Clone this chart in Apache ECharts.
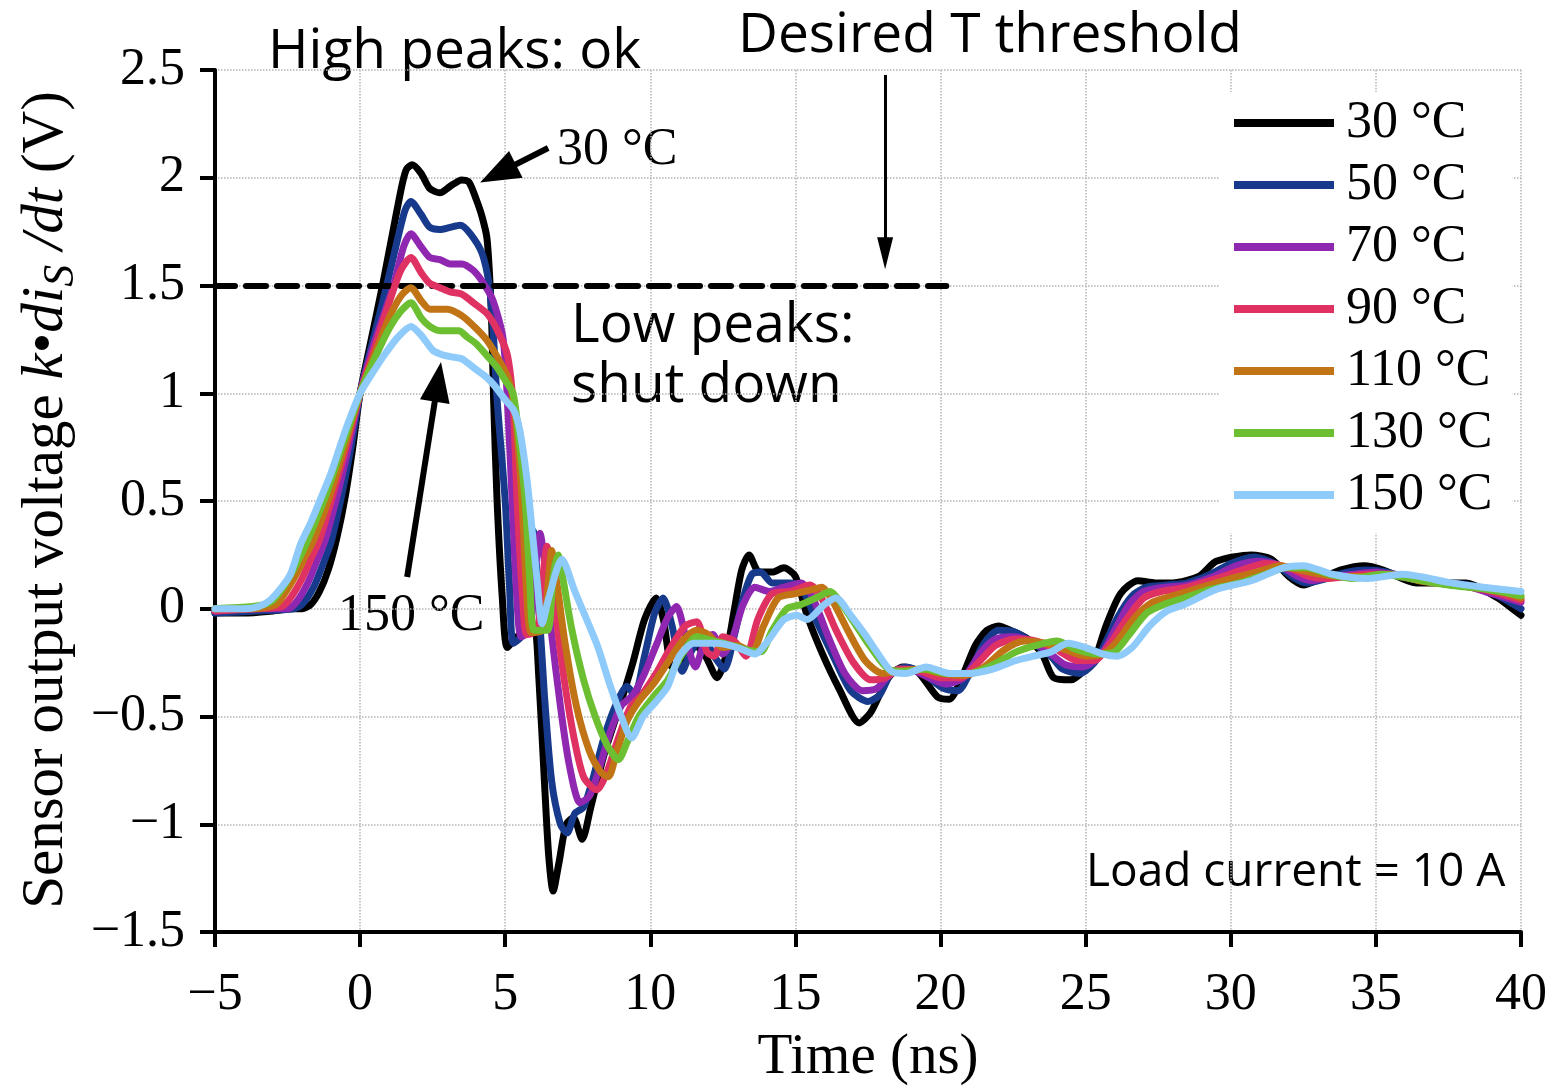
<!DOCTYPE html>
<html>
<head>
<meta charset="utf-8">
<script src="https://cdn.jsdelivr.net/npm/echarts@6/dist/echarts.min.js"></script>
</head>
<body style="margin:0;background:#fff">
<div id="main" style="width:1558px;height:1089px"></div>
<script>
// legend names, one per temperature
var tempNames = ['30 \u00b0C', '50 \u00b0C', '70 \u00b0C', '90 \u00b0C', '110 \u00b0C', '130 \u00b0C', '150 \u00b0C'];

// [time (ns), voltage (V)]
var s30 = [[-5,-0.02],[-4,-0.02],[-3,-0.01],[-2.4,0.0],[-2.0,0.0],[-1.7,0.02],[-1.4,0.08],[-1.1,0.18],[-0.8,0.33],[-0.5,0.53],[-0.25,0.75],[0,1.0],[0.4,1.26],[0.8,1.52],[1.2,1.8],[1.45,1.97],[1.6,2.04],[1.8,2.06],[2.1,2.02],[2.4,1.95],[2.75,1.93],[3.1,1.96],[3.5,1.99],[3.75,1.98],[4.0,1.9],[4.2,1.82],[4.37,1.72],[4.48,1.5],[4.54,1.3],[4.6,0.97],[4.72,0.5],[4.9,0.05],[5.07,-0.18],[5.4,-0.13],[5.75,-0.1],[6.0,-0.08],[6.15,-0.3],[6.35,-0.8],[6.5,-1.15],[6.65,-1.31],[6.85,-1.18],[7.1,-1.0],[7.35,-0.97],[7.65,-1.07],[7.95,-0.92],[8.4,-0.68],[8.9,-0.47],[9.4,-0.25],[9.8,-0.05],[10.2,0.05],[10.45,-0.05],[10.75,-0.27],[11.0,-0.25],[11.4,-0.15],[11.9,-0.22],[12.3,-0.32],[12.6,-0.22],[12.9,0.0],[13.15,0.18],[13.4,0.25],[13.75,0.17],[14.2,0.17],[14.6,0.19],[15.0,0.15],[15.4,-0.03],[15.9,-0.2],[16.5,-0.37],[17.2,-0.53],[17.6,-0.48],[18.2,-0.32],[18.7,-0.27],[19.2,-0.29],[19.9,-0.41],[20.3,-0.42],[20.7,-0.33],[21.2,-0.17],[21.6,-0.1],[22.0,-0.08],[22.4,-0.1],[23.0,-0.14],[23.5,-0.21],[23.9,-0.32],[24.5,-0.33],[25.0,-0.28],[25.3,-0.24],[25.7,-0.08],[26.2,0.07],[26.8,0.13],[27.4,0.12],[28.0,0.12],[28.9,0.15],[29.5,0.22],[30.7,0.25],[31.4,0.23],[32.0,0.15],[32.5,0.11],[33.1,0.14],[33.8,0.18],[34.6,0.2],[35.25,0.18],[36.4,0.12],[37.3,0.12],[38.1,0.12],[39.2,0.05],[39.7,0.0],[40,-0.03]];
var s50 = [[-5,-0.02],[-3.5,-0.01],[-2.3,0.0],[-2.0,0.02],[-1.6,0.1],[-1.3,0.2],[-1.0,0.31],[-0.6,0.55],[-0.3,0.76],[0,1.0],[0.45,1.25],[0.9,1.49],[1.3,1.72],[1.55,1.85],[1.75,1.89],[2.1,1.83],[2.4,1.77],[2.75,1.76],[3.1,1.77],[3.45,1.78],[3.8,1.74],[4.2,1.65],[4.45,1.5],[4.58,1.3],[4.72,0.97],[5.0,0.5],[5.15,0.1],[5.28,-0.16],[5.6,-0.12],[5.8,0.1],[5.97,0.36],[6.12,0.1],[6.35,-0.4],[6.6,-0.8],[6.9,-1.0],[7.13,-1.04],[7.4,-0.95],[7.7,-0.92],[8.0,-0.8],[8.4,-0.6],[8.8,-0.45],[9.2,-0.36],[9.45,-0.4],[9.8,-0.22],[10.15,-0.02],[10.44,0.05],[10.75,-0.08],[11.1,-0.29],[11.4,-0.2],[11.8,-0.13],[12.2,-0.22],[12.55,-0.28],[12.9,-0.12],[13.2,0.05],[13.5,0.16],[13.8,0.17],[14.2,0.12],[14.8,0.12],[15.2,0.1],[15.7,-0.05],[16.3,-0.22],[16.9,-0.38],[17.5,-0.43],[17.9,-0.4],[18.3,-0.3],[18.8,-0.27],[19.4,-0.3],[20.1,-0.37],[20.6,-0.38],[21.0,-0.3],[21.5,-0.16],[22.0,-0.1],[22.6,-0.11],[23.2,-0.16],[23.8,-0.22],[24.2,-0.28],[24.8,-0.3],[25.3,-0.25],[25.6,-0.18],[26.1,-0.04],[26.6,0.06],[27.1,0.1],[27.8,0.11],[28.5,0.12],[29.3,0.16],[30.0,0.21],[30.8,0.24],[31.5,0.21],[32.1,0.15],[32.6,0.12],[33.3,0.14],[34.0,0.17],[34.7,0.18],[35.4,0.17],[36.2,0.14],[37.2,0.12],[38.2,0.11],[39.2,0.06],[40,0.0]];
var s70 = [[-5,-0.01],[-3.5,0],[-2.5,0.0],[-2.2,0.03],[-1.8,0.12],[-1.5,0.22],[-1.2,0.32],[-0.8,0.52],[-0.4,0.75],[0,1.0],[0.5,1.24],[1.15,1.5],[1.5,1.68],[1.75,1.74],[2.1,1.68],[2.4,1.63],[2.75,1.62],[3.1,1.6],[3.5,1.6],[3.9,1.57],[4.2,1.52],[4.58,1.43],[4.93,1.25],[5.1,0.9],[5.24,0.5],[5.4,0.05],[5.55,-0.13],[5.85,-0.1],[6.05,0.2],[6.2,0.35],[6.35,0.22],[6.6,-0.12],[6.9,-0.45],[7.2,-0.72],[7.58,-0.9],[7.9,-0.87],[8.2,-0.76],[8.6,-0.58],[9.0,-0.45],[9.4,-0.4],[9.8,-0.3],[10.2,-0.17],[10.6,-0.04],[10.9,0.01],[11.2,-0.12],[11.55,-0.27],[11.9,-0.14],[12.15,-0.12],[12.5,-0.21],[12.8,-0.15],[13.2,0.02],[13.6,0.1],[14.1,0.08],[14.6,0.1],[15.2,0.12],[15.6,0.05],[16.1,-0.12],[16.7,-0.3],[17.3,-0.38],[17.8,-0.37],[18.3,-0.3],[18.9,-0.28],[19.6,-0.32],[20.2,-0.35],[20.8,-0.32],[21.4,-0.2],[21.9,-0.14],[22.5,-0.13],[23.1,-0.15],[23.7,-0.2],[24.3,-0.26],[24.9,-0.27],[25.5,-0.22],[26.0,-0.1],[26.5,0.02],[27.0,0.08],[27.7,0.1],[28.5,0.11],[29.4,0.15],[30.2,0.2],[31.0,0.22],[31.7,0.2],[32.3,0.15],[32.8,0.13],[33.5,0.15],[34.2,0.16],[35.0,0.17],[35.8,0.15],[36.8,0.13],[38.0,0.11],[39.0,0.07],[40,0.03]];
var s90 = [[-5,-0.01],[-3.6,0],[-2.7,0.01],[-2.4,0.05],[-2.0,0.14],[-1.7,0.23],[-1.4,0.32],[-1.0,0.5],[-0.5,0.74],[0,1.0],[0.5,1.21],[1.0,1.42],[1.4,1.57],[1.75,1.63],[2.1,1.56],[2.4,1.51],[2.75,1.49],[3.1,1.47],[3.5,1.46],[3.9,1.42],[4.37,1.37],[4.7,1.3],[5.07,1.18],[5.27,0.95],[5.41,0.5],[5.6,0.05],[5.75,-0.12],[6.1,-0.1],[6.3,0.15],[6.44,0.29],[6.6,0.16],[6.9,-0.2],[7.3,-0.55],[7.7,-0.78],[8.15,-0.84],[8.5,-0.76],[8.9,-0.6],[9.3,-0.46],[9.7,-0.4],[10.2,-0.3],[10.7,-0.18],[11.2,-0.08],[11.6,-0.06],[11.95,-0.2],[12.2,-0.22],[12.5,-0.13],[12.9,-0.15],[13.3,-0.22],[13.7,-0.05],[14.2,0.07],[14.8,0.08],[15.5,0.11],[15.9,0.05],[16.4,-0.1],[17.0,-0.25],[17.6,-0.33],[18.1,-0.32],[18.6,-0.28],[19.3,-0.29],[20.0,-0.32],[20.7,-0.32],[21.3,-0.25],[21.9,-0.17],[22.6,-0.14],[23.3,-0.15],[24.0,-0.19],[24.7,-0.24],[25.3,-0.24],[25.8,-0.17],[26.4,-0.05],[27.0,0.05],[27.6,0.08],[28.5,0.1],[29.5,0.14],[30.4,0.18],[31.2,0.21],[32.0,0.19],[32.7,0.15],[33.3,0.14],[34.0,0.15],[34.8,0.16],[35.6,0.16],[36.6,0.13],[37.8,0.11],[39.0,0.08],[40,0.04]];
var s110 = [[-5,0],[-3.6,0],[-2.9,0.02],[-2.6,0.07],[-2.2,0.16],[-1.9,0.24],[-1.6,0.32],[-1.1,0.5],[-0.5,0.77],[0,1.0],[0.5,1.18],[1.0,1.35],[1.4,1.45],[1.75,1.49],[2.1,1.43],[2.4,1.39],[2.75,1.39],[3.0,1.39],[3.5,1.36],[4.0,1.3],[4.4,1.24],[4.8,1.15],[5.1,1.07],[5.3,0.95],[5.45,0.75],[5.58,0.5],[5.75,0.05],[5.9,-0.11],[6.3,-0.1],[6.5,0.15],[6.6,0.27],[6.75,0.15],[7.05,-0.15],[7.45,-0.45],[7.9,-0.66],[8.3,-0.76],[8.55,-0.78],[8.85,-0.66],[9.2,-0.52],[9.6,-0.43],[10.1,-0.35],[10.6,-0.25],[11.1,-0.15],[11.6,-0.1],[12.0,-0.12],[12.5,-0.18],[13.0,-0.17],[13.5,-0.2],[13.9,-0.08],[14.4,0.05],[15.0,0.07],[15.6,0.09],[15.9,0.1],[16.3,0.03],[16.8,-0.1],[17.4,-0.24],[18.0,-0.3],[18.6,-0.29],[19.3,-0.28],[20.0,-0.3],[20.8,-0.31],[21.5,-0.27],[22.2,-0.19],[22.9,-0.15],[23.6,-0.16],[24.3,-0.19],[25.0,-0.22],[25.6,-0.21],[26.1,-0.15],[26.7,-0.04],[27.3,0.03],[28.0,0.06],[29.0,0.1],[30.0,0.14],[30.9,0.17],[31.7,0.2],[32.4,0.18],[33.1,0.16],[33.8,0.15],[34.6,0.15],[35.5,0.16],[36.5,0.13],[37.7,0.11],[39.0,0.09],[40,0.05]];
var s130 = [[-5,0],[-3.7,0.01],[-3.1,0.03],[-2.7,0.09],[-2.3,0.18],[-2.0,0.26],[-1.8,0.32],[-1.2,0.52],[-0.6,0.76],[0,1.0],[0.5,1.16],[1.0,1.3],[1.4,1.38],[1.75,1.42],[2.1,1.35],[2.4,1.31],[2.75,1.29],[3.1,1.29],[3.4,1.29],[3.7,1.26],[4.0,1.23],[4.4,1.17],[4.72,1.12],[5.0,1.06],[5.27,1.0],[5.45,0.82],[5.69,0.5],[5.85,0.12],[6.0,-0.1],[6.45,-0.1],[6.65,0.15],[6.82,0.25],[7.0,0.13],[7.3,-0.1],[7.7,-0.33],[8.1,-0.5],[8.5,-0.63],[8.9,-0.7],[9.2,-0.62],[9.6,-0.5],[10.1,-0.41],[10.6,-0.33],[11.1,-0.21],[11.6,-0.13],[12.2,-0.15],[12.8,-0.17],[13.3,-0.19],[13.8,-0.2],[14.2,-0.1],[14.7,0.0],[15.2,0.02],[15.7,0.05],[16.2,0.08],[16.6,0.02],[17.1,-0.08],[17.6,-0.18],[18.2,-0.28],[18.8,-0.29],[19.5,-0.28],[20.2,-0.3],[21.0,-0.3],[21.8,-0.26],[22.6,-0.2],[23.3,-0.17],[24.0,-0.15],[24.7,-0.19],[25.4,-0.21],[26.0,-0.2],[26.5,-0.12],[27.1,-0.02],[27.7,0.02],[28.4,0.05],[29.3,0.09],[30.3,0.12],[31.2,0.16],[31.9,0.19],[32.6,0.19],[33.4,0.16],[34.2,0.14],[35.2,0.16],[36.2,0.14],[37.5,0.11],[38.8,0.09],[40,0.06]];
var s150 = [[-5,0],[-4,0],[-3.5,0.01],[-3.1,0.04],[-2.7,0.1],[-2.4,0.16],[-2.05,0.3],[-1.7,0.4],[-1.3,0.53],[-1.0,0.63],[-0.5,0.83],[0,1.0],[0.5,1.11],[0.9,1.19],[1.3,1.26],[1.75,1.31],[2.1,1.27],[2.5,1.2],[2.8,1.18],[3.1,1.17],[3.5,1.16],[3.9,1.12],[4.3,1.08],[4.6,1.04],[5.0,0.97],[5.3,0.92],[5.5,0.83],[5.75,0.6],[5.93,0.36],[6.1,0.13],[6.27,-0.07],[6.5,0.05],[6.95,0.23],[7.4,0.08],[7.9,-0.08],[8.2,-0.18],[8.6,-0.35],[9.0,-0.5],[9.35,-0.6],[9.75,-0.5],[10.2,-0.43],[10.6,-0.36],[11.0,-0.22],[11.5,-0.16],[12.3,-0.16],[13.0,-0.18],[13.6,-0.21],[14.1,-0.14],[14.6,-0.05],[15.05,-0.03],[15.4,-0.05],[16.0,0.02],[16.4,0.05],[16.9,-0.03],[17.4,-0.12],[17.8,-0.2],[18.3,-0.29],[18.8,-0.3],[19.5,-0.27],[20.3,-0.3],[21.0,-0.3],[21.8,-0.28],[22.6,-0.24],[23.2,-0.22],[23.8,-0.2],[24.4,-0.16],[25.0,-0.18],[25.6,-0.21],[26.1,-0.22],[26.6,-0.18],[27.2,-0.08],[27.8,-0.01],[28.4,0.02],[29.5,0.09],[30.7,0.13],[31.8,0.19],[32.5,0.2],[33.5,0.16],[34.7,0.14],[35.9,0.16],[37.6,0.12],[38.7,0.1],[40,0.08]];

// threshold line: level and where the dashes stop
var thresholdV = 1.5;
var thresholdFrom = -5;
var thresholdTo = 20.2;

var serif = 'Liberation Serif';
var colors = ['#000000', '#173a8c', '#8f27b0', '#df3262', '#c07415', '#6bbf30', '#8ecafa'];
var allData = [s30, s50, s70, s90, s110, s130, s150];

function minusSign(v) {
    return String(v).replace('-', '\u2212');
}

var series = [];
for (var i = 0; i < allData.length; i++) {
    series.push({
        name: tempNames[i],
        type: 'line',
        data: allData[i],
        symbol: 'none',
        smooth: 0.25,
        itemStyle: { color: colors[i] },
        lineStyle: { color: colors[i], width: 7, cap: 'round', join: 'round' },
        z: 2 + i
    });
}

// arrows and the dashed threshold, in data coordinates
series.push({
    type: 'line',
    data: [],
    silent: true,
    z: 20,
    markLine: {
        silent: true,
        animation: false,
        label: { show: false },
        data: [
            [
                { coord: [thresholdFrom, thresholdV], symbol: 'none',
                  lineStyle: { color: '#000', width: 6, type: [20, 11], cap: 'round' } },
                { coord: [thresholdTo, thresholdV], symbol: 'none' }
            ],
            [
                { coord: [6.48, 2.138], symbol: 'none', lineStyle: { color: '#000', width: 6, type: 'solid' } },
                { coord: [4.75, 2.02], symbol: 'triangle', symbolSize: [30, 40] }
            ],
            [
                { coord: [1.62, 0.147], symbol: 'none', lineStyle: { color: '#000', width: 6, type: 'solid' } },
                { coord: [2.68, 1.053], symbol: 'triangle', symbolSize: [30, 40] }
            ],
            [
                { coord: [18.09, 2.477], symbol: 'none', lineStyle: { color: '#000', width: 3, type: 'solid' } },
                { coord: [18.09, 1.65], symbol: 'triangle', symbolSize: [16, 32] }
            ]
        ]
    }
});

var chart = echarts.init(document.getElementById('main'));
chart.setOption({
    animation: false,
    backgroundColor: '#fff',
    grid: { left: 215, right: 37, top: 70, bottom: 157, outerBoundsMode: 'none', containLabel: false },
    xAxis: {
        type: 'value', min: -5, max: 40, interval: 5,
        axisLine: { onZero: false, lineStyle: { color: '#000', width: 4 } },
        axisTick: { length: 15, lineStyle: { color: '#000', width: 4 } },
        axisLabel: { margin: 37, color: '#000', fontFamily: serif, fontSize: 52, formatter: minusSign },
        splitLine: { show: true, lineStyle: { type: 'dotted', color: '#b4b4b4', width: 1.5 } },
        name: 'Time (ns)', nameLocation: 'middle', nameGap: 98,
        nameTextStyle: { color: '#000', fontFamily: serif, fontSize: 57 }
    },
    yAxis: {
        type: 'value', min: -1.5, max: 2.5, interval: 0.5,
        axisLine: { onZero: false, lineStyle: { color: '#000', width: 4 } },
        axisTick: { length: 15, lineStyle: { color: '#000', width: 4 } },
        axisLabel: { margin: 30, color: '#000', fontFamily: serif, fontSize: 52, formatter: minusSign },
        splitLine: { show: true, lineStyle: { type: 'dotted', color: '#b4b4b4', width: 1.5 } }
    },
    legend: {
        orient: 'vertical', left: 1220, top: 92,
        icon: 'rect', itemWidth: 100, itemHeight: 8, itemGap: 10,
        padding: [5, 20, 12, 14],
        backgroundColor: '#fff',
        textStyle: { color: '#000', fontFamily: serif, fontSize: 52, lineHeight: 51, padding: [0, 0, 0, 7] },
        data: tempNames
    },
    graphic: [
        {
            type: 'text', x: 46, y: 500, rotation: Math.PI / 2,
            style: {
                text: '{n|Sensor output voltage }{i|k}{n|\u2022}{i|di}{sub|S}{i| /dt}{n| (V)}',
                align: 'center', verticalAlign: 'middle', fill: '#000',
                rich: {
                    n: { fontFamily: serif, fontSize: 59, fill: '#000' },
                    i: { fontFamily: serif, fontSize: 59, fontStyle: 'italic', fill: '#000' },
                    sub: { fontFamily: serif, fontSize: 44, fontStyle: 'italic', fill: '#000', padding: [30, 0, 0, 0] }
                }
            }
        },
        { type: 'text', x: 268, y: 52, style: { text: 'High peaks: ok', font: '55px "Open Sans"', fill: '#000', verticalAlign: 'middle' } },
        { type: 'text', x: 738, y: 36, style: { text: 'Desired T threshold', font: '55px "Open Sans"', fill: '#000', verticalAlign: 'middle' } },
        { type: 'text', x: 571, y: 326, style: { text: 'Low peaks:', font: '55px "Open Sans"', fill: '#000', verticalAlign: 'middle' } },
        { type: 'text', x: 571, y: 386, style: { text: 'shut down', font: '55px "Open Sans"', fill: '#000', verticalAlign: 'middle' } },
        { type: 'text', x: 1086, y: 873, style: { text: 'Load current = 10 A', font: '46px "Open Sans"', fill: '#000', verticalAlign: 'middle' } },
        { type: 'text', x: 557, y: 150, style: { text: '30 \u00b0C', font: '52px "Liberation Serif"', fill: '#000', verticalAlign: 'middle' } },
        { type: 'text', x: 338, y: 616, style: { text: '150 \u00b0C', font: '52px "Liberation Serif"', fill: '#000', verticalAlign: 'middle' } }
    ],
    series: series
});
</script>
</body>
</html>
